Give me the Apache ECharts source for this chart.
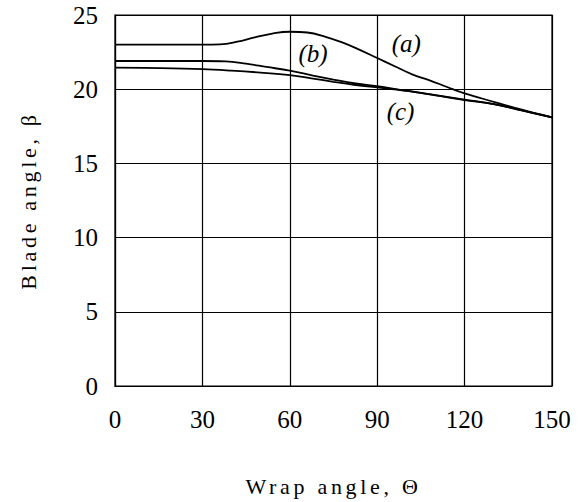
<!DOCTYPE html>
<html><head><meta charset="utf-8">
<script src="https://cdn.jsdelivr.net/npm/echarts@6/dist/echarts.min.js"></script>
<style>html,body{margin:0;padding:0;background:#fff}#c{width:587px;height:502px}</style>
</head><body><div id="c"></div>
<script>
const xTicks = [0, 30, 60, 90, 120, 150];
const yTicks = [0, 5, 10, 15, 20, 25];

const thetaA = [0, 15, 30, 36, 42, 48, 54, 60, 66, 72, 78, 84, 90, 96, 102, 108, 114, 120, 130, 140, 150];
const betaA  = [23.0, 23.0, 23.0, 23.02, 23.2, 23.5, 23.75, 23.87, 23.82, 23.55, 23.15, 22.65, 22.1, 21.55, 21.0, 20.6, 20.15, 19.72, 19.15, 18.6, 18.1];

const thetaB = [0, 15, 30, 38, 45, 52, 60, 68, 75, 82, 90, 100, 110, 120, 130, 140, 150];
const betaB  = [21.9, 21.9, 21.9, 21.88, 21.72, 21.5, 21.25, 20.92, 20.65, 20.4, 20.2, 19.9, 19.6, 19.3, 19.0, 18.55, 18.1];

const thetaC = [0, 15, 30, 40, 50, 60, 68, 75, 82, 90, 100, 110, 120, 130, 140, 150];
const betaC  = [21.45, 21.42, 21.35, 21.25, 21.12, 20.95, 20.72, 20.5, 20.3, 20.12, 19.88, 19.58, 19.27, 19.0, 18.55, 18.1];

const curveNames = ['(a)', '(b)', '(c)'];
const labelTheta = [100, 68, 98];
const labelBeta  = [23.1, 22.4, 18.5];

const xName = 'Wrap angle, \u0398';
const yName = 'Blade angle, \u03B2';

const FONT = 'Liberation Serif';
const pairs = (xs, ys) => xs.map((x, i) => [x, ys[i]]);

const chart = echarts.init(document.getElementById('c'), null, {renderer: 'svg'});

const lineSeries = [[thetaA, betaA], [thetaB, betaB], [thetaC, betaC]].map((d, i) => ({
  name: curveNames[i],
  type: 'line',
  data: pairs(d[0], d[1]),
  smooth: 0.4,
  symbol: 'none',
  lineStyle: {color: '#000', width: 1.8},
  z: 3
}));

const option = {
  animation: false,
  backgroundColor: '#fff',
  grid: {left: 115, right: 35, top: 15, bottom: 116, show: true, borderColor: '#000', borderWidth: 1.2, backgroundColor: 'transparent'},
  xAxis: {
    type: 'value', min: xTicks[0], max: xTicks[xTicks.length - 1], interval: xTicks[1] - xTicks[0],
    name: xName, nameLocation: 'middle', nameGap: 89,
    nameTextStyle: {fontFamily: FONT, fontSize: 22, color: '#000'},
    axisLine: {lineStyle: {color: '#000', width: 1.2}},
    axisTick: {show: false},
    axisLabel: {fontFamily: FONT, fontSize: 25, color: '#000', margin: 21},
    splitLine: {show: true, lineStyle: {color: '#000', width: 1.2}}
  },
  yAxis: {
    type: 'value', min: yTicks[0], max: yTicks[yTicks.length - 1], interval: yTicks[1] - yTicks[0],
    name: yName, nameLocation: 'middle', nameGap: 76, nameRotate: 90,
    nameTextStyle: {fontFamily: FONT, fontSize: 22, color: '#000'},
    axisLine: {lineStyle: {color: '#000', width: 1.2}},
    axisTick: {show: false},
    axisLabel: {fontFamily: FONT, fontSize: 25, color: '#000', margin: 17},
    splitLine: {show: true, lineStyle: {color: '#000', width: 1.2}}
  },
  series: lineSeries.concat([{
    type: 'scatter',
    data: curveNames.map((n, i) => ({value: [labelTheta[i], labelBeta[i]], name: n})),
    symbolSize: 1,
    itemStyle: {color: 'rgba(0,0,0,0)'},
    label: {show: true, position: 'inside', formatter: p => p.name, fontFamily: FONT, fontStyle: 'italic', fontSize: 25, color: '#000', opacity: 1},
    emphasis: {disabled: true},
    silent: true,
    z: 4
  }])
};
chart.setOption(option);

function spacing() {
  document.querySelectorAll('#c text').forEach(t => {
    const s = t.textContent;
    if (s.startsWith('Wrap') || s.startsWith('Blade')) t.style.letterSpacing = '3.7px';
  });
}
chart.on('finished', spacing);
spacing();
</script>
</body></html>
